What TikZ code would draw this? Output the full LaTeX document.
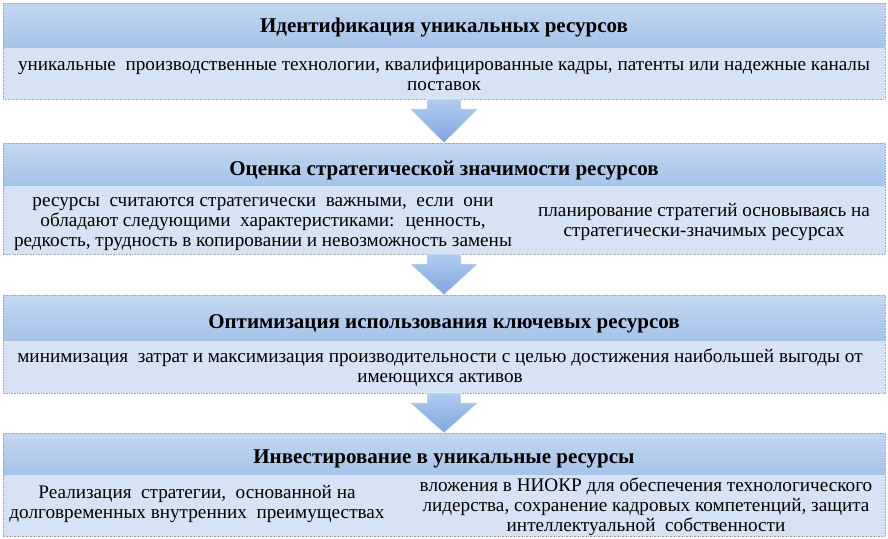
\documentclass[tikz,border=0pt]{standalone}
\usepackage{fontspec}
\setmainfont{Liberation Serif}
\newfontfamily\rmcyr{Liberation Serif}
\usetikzlibrary{positioning,calc}
\definecolor{headtop}{RGB}{196,215,241}
\definecolor{headbot}{RGB}{166,195,233}
\definecolor{bodyblue}{RGB}{214,227,245}
\definecolor{arrtop}{RGB}{176,204,240}
\definecolor{arrbot}{RGB}{128,166,220}
\begin{document}
\begin{tikzpicture}[x=1pt,y=-1pt,
    head/.style={top color=headtop, bottom color=headbot, minimum width=882pt,
        inner sep=0pt, anchor=north},
    headtext/.style={inner sep=0pt, font=\rmcyr\fontsize{21}{22}\selectfont\bfseries},
    bodybox/.style={fill=bodyblue, minimum width=882pt, inner sep=0pt, anchor=north},
    bodytext/.style={align=center, inner sep=0pt, font=\rmcyr\fontsize{19.2}{20}\selectfont},
    frame/.style={draw=gray!70, densely dotted, line width=0.6pt},
    blockarrow/.style={top color=arrtop, bottom color=arrbot, draw=white, line width=0.4pt}]
    \useasboundingbox (0,0) rectangle (888,538);
    % block 1
    \node[head] (h1) at (444,3) [minimum height=44pt] {};
    \node[headtext] (l1) at (444,27) {Идентификация уникальных ресурсов};
    \node[bodybox, below=0pt of h1, minimum height=51pt] (b1) {};
    \node[bodytext] (t1) at (444,74) {уникальные \ производственные технологии, квалифицированные кадры, патенты или надежные каналы\\поставок};
    % block 2
    \node[head] (h2) at (444,143) [minimum height=42pt] {};
    \node[headtext] (l2) at (444,171) {Оценка стратегической значимости ресурсов};
    \node[bodybox, below=0pt of h2, minimum height=68pt] (b2) {};
    \node[bodytext] (t2a) at (263,224) {ресурсы \ считаются стратегически \ важными, \ если \ они\\обладают следующими \ характеристиками: \ ценность,\\редкость, трудность в копировании и невозможность замены};
    \node[bodytext] (t2b) at (704,222) {планирование стратегий основываясь на\\стратегически-значимых ресурсах};
    % block 3
    \node[head] (h3) at (444,295) [minimum height=45pt] {};
    \node[headtext] (l3) at (444,324) {Оптимизация использования ключевых ресурсов};
    \node[bodybox, below=0pt of h3, minimum height=52pt] (b3) {};
    \node[bodytext] (t3) at (440,368) {минимизация \ затрат и максимизация производительности с целью достижения наибольшей выгоды от\\имеющихся активов};
    % block 4
    \node[head] (h4) at (444,433) [minimum height=41pt] {};
    \node[headtext] (l4) at (444,459) {Инвестирование в уникальные ресурсы};
    \node[bodybox, below=0pt of h4, minimum height=61pt] (b4) {};
    \node[bodytext] (t4a) at (197,504) {Реализация \ стратегии, \ основанной на\\долговременных внутренних \ преимуществах};
    \node[bodytext] (t4b) at (646,507) {вложения в НИОКР для обеспечения технологического\\лидерства, сохранение кадровых компетенций, защита\\интеллектуальной \ собственности};
    % frames
    \foreach \h/\b in {h1/b1,h2/b2,h3/b3,h4/b4}
        \draw[frame] (\h.north west) rectangle (\b.south east);
    % arrows
    \foreach \a/\b in {b1/h2,b2/h3,b3/h4}
        \draw[blockarrow] ($(\a.south)+(-17,0)$) -- ($(\a.south)+(17,0)$)
            -- ($(\a.south)+(17,10)$) -- ($(\a.south)+(34,10)$) -- (\b.north)
            -- ($(\a.south)+(-34,10)$) -- ($(\a.south)+(-17,10)$) -- cycle;
\end{tikzpicture}
\end{document}
